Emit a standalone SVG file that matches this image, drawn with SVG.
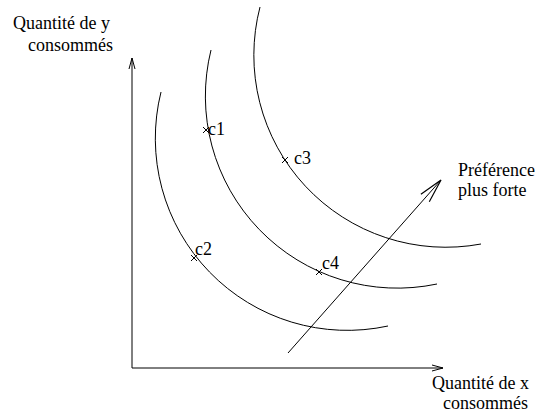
<svg xmlns="http://www.w3.org/2000/svg" width="538" height="414" viewBox="0 0 538 414">
<style>
.ln{fill:none;stroke:#000;stroke-width:1}
.t{font-family:'Liberation Serif',serif;font-size:18px;fill:#000}
</style>
<defs>
<marker id="ax" markerUnits="userSpaceOnUse" viewBox="0 0 11 6" refX="11" refY="3" markerWidth="11" markerHeight="6" orient="auto" overflow="visible">
<path d="M0,0 L11,3 L0,6" fill="none" stroke="#000" stroke-width="1"/>
</marker>
<marker id="big" markerUnits="userSpaceOnUse" viewBox="0 0 24 12" refX="24" refY="6" markerWidth="24" markerHeight="12" orient="auto" overflow="visible">
<path d="M0,0.4 L24,6 L0,11.6" fill="none" stroke="#000" stroke-width="1.2"/>
</marker>
</defs>
<rect width="538" height="414" fill="#fff"/>
<g id="connectors">
<path id="axis-y" class="ln" d="M132,368 L132,58" marker-end="url(#ax)"/>
<path id="axis-x" class="ln" d="M132,368 L443,368" marker-end="url(#ax)"/>
<path id="pref-arrow" class="ln" stroke-width="1.2" d="M288,353 L441,180" marker-end="url(#big)"/>
</g>
<g id="curves">
<path id="curve1" class="ln" d="M161,92 A192,192 0 0 0 388,326"/>
<path id="curve2" class="ln" d="M211,50 A192,192 0 0 0 437,284"/>
<path id="curve3" class="ln" d="M260,7 A192,192 0 0 0 481,244"/>
</g>
<g id="c1">
<path class="ln" d="M203,127 L209,133 M203,133 L209,127"/>
<text class="t" x="208" y="135">c1</text>
</g>
<g id="c2">
<path class="ln" d="M191,255 L197,261 M191,261 L197,255"/>
<text class="t" x="195" y="255">c2</text>
</g>
<g id="c3">
<path class="ln" d="M282,157 L288,163 M282,163 L288,157"/>
<text class="t" x="294" y="164">c3</text>
</g>
<g id="c4">
<path class="ln" d="M316,269 L322,275 M316,275 L322,269"/>
<text class="t" x="322" y="269">c4</text>
</g>
<g id="label-y">
<text class="t" x="13" y="29">Quantité de y</text>
<text class="t" x="28" y="51">consommés</text>
</g>
<g id="label-x">
<text class="t" x="432" y="389">Quantité de x</text>
<text class="t" x="443" y="409">consommés</text>
</g>
<g id="label-pref">
<text class="t" x="458" y="176">Préférence</text>
<text class="t" x="458" y="196">plus forte</text>
</g>
</svg>
